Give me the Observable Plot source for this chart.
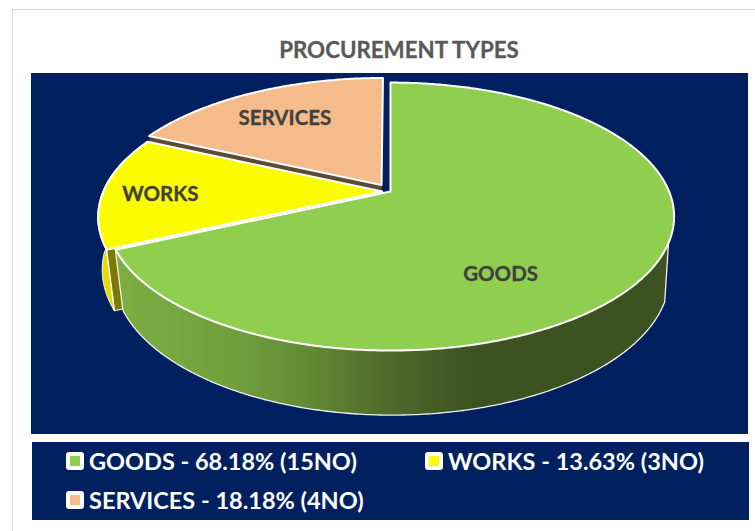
<!DOCTYPE html>
<html>
<head>
<meta charset="utf-8">
<script src="https://cdn.jsdelivr.net/npm/d3@7"></script>
<script src="https://cdn.jsdelivr.net/npm/@observablehq/plot@0.6"></script>
<style>
html,body{margin:0;padding:0;background:#fff;}
#page{position:relative;width:755px;height:531px;overflow:hidden;font-family:Lato,"Open Sans",sans-serif;}
#frame{position:absolute;left:12px;top:9px;width:760px;height:540px;border:1.5px solid #d9d9d9;box-sizing:border-box;}
#title{position:absolute;left:0;top:36px;width:798px;text-align:center;font-size:22.3px;font-weight:700;color:#595959;line-height:28px;-webkit-text-stroke:0.3px #595959;}
#chart{position:absolute;left:31px;top:73px;width:717px;height:361px;}
#chart svg{display:block;background:#002060;}
#legend{position:absolute;left:32px;top:442px;width:717px;height:78px;background:#002060;color:#fff;font-weight:700;font-size:23.5px;}
.item{position:absolute;display:flex;align-items:center;white-space:nowrap;height:26px;}
.sw{width:18px;height:18px;background:#fff;border-radius:3px;display:flex;align-items:center;justify-content:center;margin-right:5px;}
.sw i{display:block;width:10px;height:10px;}
</style>
</head>
<body>
<div id="page">
  <div id="frame"></div>
  <div id="title"></div>
  <div id="chart"></div>
  <div id="legend"></div>
</div>
<script>
const chartTitle = "PROCUREMENT TYPES";
const categories = ["GOODS", "WORKS", "SERVICES"];
const shares = [68.18, 13.63, 18.18];
const counts = [15, 3, 4];
const colors = ["#90ce50", "#fcfc00", "#f5bb8b"];

const tilt = 0.187;
const explode = {GOODS: 0, WORKS: 0.03, SERVICES: 0.06};
const depth = {sx: 0.979, sy: 1.04, dx: 0.007, dy: 0.454};
const labelPos = {GOODS: [0.395, 0.645], WORKS: [-0.826, 0.025], SERVICES: [-0.379, -0.562]};

const slices = new Map(d3.pie().sort(null).value(d => d.share).startAngle(0).endAngle(2 * Math.PI)(
  categories.map((name, i) => ({name, share: shares[i]}))
).map(s => [s.data.name, s]));

function project(name, theta, r, bottom) {
  const s = slices.get(name), mid = (s.startAngle + s.endAngle) / 2, d = explode[name];
  const X = r * Math.sin(theta) + d * Math.sin(mid);
  const Y = -r * Math.cos(theta) - d * Math.cos(mid);
  const p = 1 / (1 - tilt * Y);
  return bottom ? [X * p * depth.sx + depth.dx, Y * p * depth.sy + depth.dy] : [X * p, Y * p];
}
function arcThetas(a, b) {
  const n = Math.max(2, Math.ceil(Math.abs(b - a) / 0.01));
  return d3.range(n + 1).map(i => a + (b - a) * i / n);
}
function topFace(name) {
  const s = slices.get(name);
  const pts = [project(name, 0, 0, false),
    ...arcThetas(s.startAngle, s.endAngle).map(t => project(name, t, 1, false)),
    project(name, 0, 0, false)];
  return pts.map(([x, y]) => ({name, x, y}));
}
function wall(name, a, b, flare = 0) {
  return arcThetas(a, b).map(t => {
    const [x1, y1] = project(name, t, 1, false), [x2, y2] = project(name, t, 1, true);
    return {x1, y1, x2: x2 - flare * Math.min(1, (t - a) / 0.4), y2};
  });
}
function cutFace(name, theta) {
  const pts = [project(name, 0, 0, false), project(name, theta, 1, false),
    project(name, theta, 1, true), project(name, 0, 0, true), project(name, 0, 0, false)];
  return pts.map(([x, y]) => ({x, y}));
}

const defs = () => {
  const d = d3.create("svg:defs");
  const g = d.append("linearGradient").attr("id", "goodsWall");
  [[0, "#7fae42"], [0.236, "#6f9c3c"], [0.36, "#608835"], [0.51, "#4d672a"], [0.65, "#3c5221"], [1, "#3c5221"]]
    .forEach(([o, c]) => g.append("stop").attr("offset", o).attr("stop-color", c));
  return d.node();
};

const G = slices.get("GOODS"), W = slices.get("WORKS"), S = slices.get("SERVICES");
const line = (data, fill, stroke, strokeWidth) =>
  Plot.line(data, {x: "x", y: "y", fill, stroke, strokeWidth, strokeLinejoin: "round", curve: "linear"});

const plot = Plot.plot({
  width: 717, height: 361, margin: 0,
  x: {domain: [-1, 1], range: [80.4, 637.6], axis: null},
  y: {domain: [-1, 1], range: [-11.3, 247.3], axis: null},
  marks: [
    defs,
    line(cutFace("SERVICES", S.startAngle), "#5f4a36", "none", 0),
    Plot.area(wall("WORKS", W.startAngle, W.startAngle + 0.7, 0.02), {x1: "x1", y1: "y1", x2: "x2", y2: "y2", fill: "#e4dc00", stroke: "#fff", strokeWidth: 1}),
    line(cutFace("WORKS", W.startAngle), "#7d7a00", "#fff", 1.2),
    Plot.area(wall("GOODS", 1.94, G.endAngle), {x1: "x1", y1: "y1", x2: "x2", y2: "y2", fill: "url(#goodsWall)", stroke: "#f0f0f0", strokeWidth: 1.3}),
    line(topFace("SERVICES"), colors[2], "#fff", 2),
    line(topFace("WORKS"), colors[1], "#fff", 2),
    line(topFace("GOODS"), colors[0], "#fff", 2),
    Plot.text(categories, {
      x: d => labelPos[d][0], y: d => labelPos[d][1], text: d => d,
      fontFamily: "Lato", fontWeight: 700, fontSize: 20.5, fill: "#404040", stroke: "#404040", strokeWidth: 0.3
    })
  ]
});
document.getElementById("chart").append(plot);
document.getElementById("title").textContent = chartTitle;

const legendPos = [[34, 6], [393, 6], [34, 45]];
const legend = document.getElementById("legend");
categories.forEach((name, i) => {
  const it = document.createElement("div");
  it.className = "item";
  it.style.left = legendPos[i][0] + "px";
  it.style.top = legendPos[i][1] + "px";
  it.innerHTML = `<span class="sw"><i style="background:${colors[i]}"></i></span><span>${name} - ${shares[i].toFixed(2)}% (${counts[i]}NO)</span>`;
  legend.append(it);
});
</script>
</body>
</html>
